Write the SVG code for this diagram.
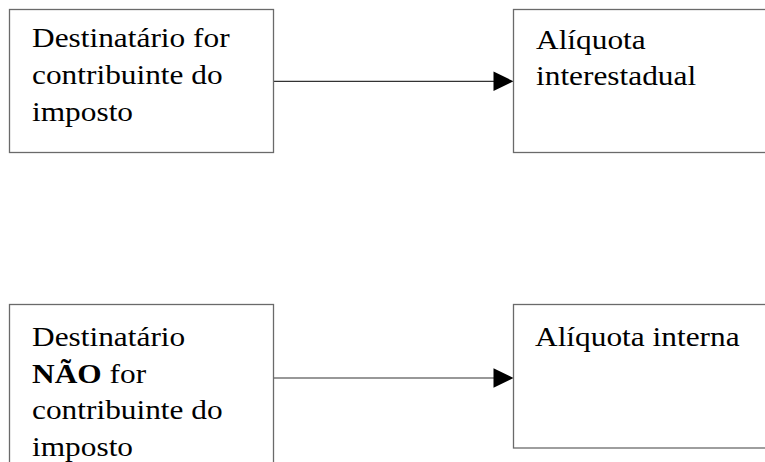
<svg xmlns="http://www.w3.org/2000/svg" width="765" height="462" viewBox="0 0 765 462">
  <style>
    .box { fill: #ffffff; stroke: #6a6a6a; stroke-width: 1.3; }
    .t { font-family: "Liberation Serif", "Times New Roman", serif; font-size: 28px; fill: #000000; }
    .b { font-weight: bold; }
    .conn { stroke: #333333; stroke-width: 1.2; fill: none; }
    .head { fill: #000000; }
  </style>
  <rect x="0" y="0" width="765" height="462" fill="#ffffff"/>
  <g id="connectors">
    <line class="conn" x1="274" y1="81.3" x2="495" y2="81.3"/>
    <polygon class="head" points="493.5,71.6 513.5,81.3 493.5,91"/>
    <line class="conn" x1="274" y1="378" x2="495" y2="378"/>
    <polygon class="head" points="493.5,368.3 513.5,378 493.5,387.7"/>
  </g>
  <g id="node-contribuinte">
    <rect class="box" x="9.5" y="9.5" width="264" height="143"/>
    <text class="t" transform="translate(32,47.3) scale(1.12,1)">Destinatário for</text>
    <text class="t" transform="translate(32,84) scale(1.12,1)">contribuinte do</text>
    <text class="t" transform="translate(32,120.7) scale(1.12,1)">imposto</text>
  </g>
  <g id="node-interestadual">
    <rect class="box" x="513.5" y="9.5" width="262" height="143"/>
    <text class="t" transform="translate(536,48.5) scale(1.12,1)">Alíquota</text>
    <text class="t" transform="translate(536,85.3) scale(1.12,1)">interestadual</text>
  </g>
  <g id="node-nao-contribuinte">
    <rect class="box" x="9.5" y="304.5" width="264" height="175"/>
    <text class="t" transform="translate(32,346) scale(1.12,1)">Destinatário</text>
    <text class="t" transform="translate(32,382.6) scale(1.12,1)"><tspan class="b">NÃO</tspan> for</text>
    <text class="t" transform="translate(32,419.3) scale(1.12,1)">contribuinte do</text>
    <text class="t" transform="translate(32,456) scale(1.12,1)">imposto</text>
  </g>
  <g id="node-interna">
    <rect class="box" x="513.5" y="304.5" width="262" height="143.5"/>
    <text class="t" transform="translate(535,345.7) scale(1.12,1)">Alíquota interna</text>
  </g>
</svg>
